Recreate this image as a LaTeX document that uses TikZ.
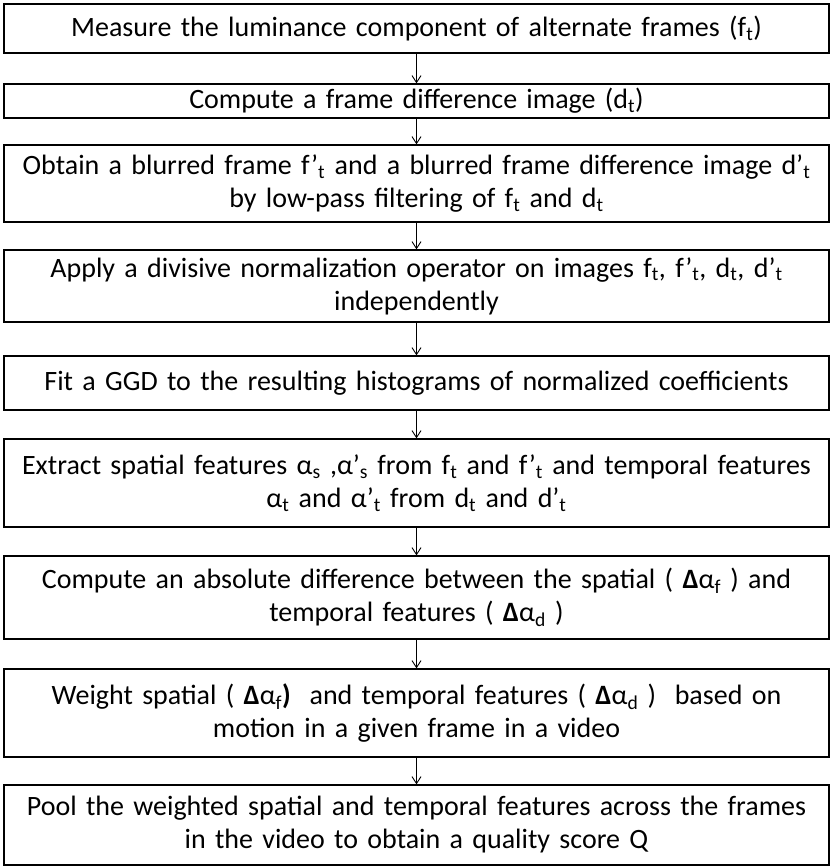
\documentclass[tikz,border=0pt]{standalone}
\usepackage{fontspec}
\setmainfont{Carlito}
\usetikzlibrary{arrows.meta}

\tikzset{
    stage/.style={draw, line width=1.2pt, minimum width=825pt, text width=822pt,
        align=center, inner sep=0pt, font=\fontsize{28}{33}\selectfont},
    flow/.style={line width=0.9pt, -{Straight Barb[length=7pt,width=9pt,line width=0.9pt]}}
}

\begin{document}
\begin{tikzpicture}[x=1pt, y=-1pt]
        \useasboundingbox (0,0) rectangle (830,866);
        % stages: number / centre y / height / text
        \foreach \n/\y/\h/\t in {
            1/28.5/49/{Measure the luminance component of alternate frames (f\textsubscript{t})},
            2/101/34/{Compute a frame difference image (d\textsubscript{t})},
            3/183.5/77/{Obtain a blurred frame f’\textsubscript{t} and a blurred frame difference image d’\textsubscript{t}\\ by low-pass filtering of f\textsubscript{t} and d\textsubscript{t}},
            4/286/72/{Apply a divisive normalization operator on images f\textsubscript{t}, f’\textsubscript{t}, d\textsubscript{t}, d’\textsubscript{t}\\ independently},
            5/383/54/{Fit a GGD to the resulting histograms of normalized coefficients},
            6/483/88/{Extract spatial features α\textsubscript{s} ,α’\textsubscript{s} from f\textsubscript{t} and f’\textsubscript{t} and temporal features\\ α\textsubscript{t} and α’\textsubscript{t} from d\textsubscript{t} and d’\textsubscript{t}},
            7/597.5/83/{Compute an absolute difference between the spatial ( \textbf{Δ}α\textsubscript{f} ) and\\ temporal features ( \textbf{Δ}α\textsubscript{d} )},
            8/713/88/{Weight spatial ( \textbf{Δ}α\textsubscript{f}\textbf{)}\ \ and temporal features ( \textbf{Δ}α\textsubscript{d} )\ \ based on\\ motion in a given frame in a video},
            9/825/80/{Pool the weighted spatial and temporal features across the frames\\ in the video to obtain a quality score Q}} {
            \node[stage, minimum height=\h pt] (s\n) at (416.5,\y) {\t};
        }
        \foreach \a/\b in {1/2,2/3,3/4,4/5,5/6,6/7,7/8,8/9} {
            \draw[flow] (s\a) -- (s\b);
        }
    \end{tikzpicture}
\end{document}
